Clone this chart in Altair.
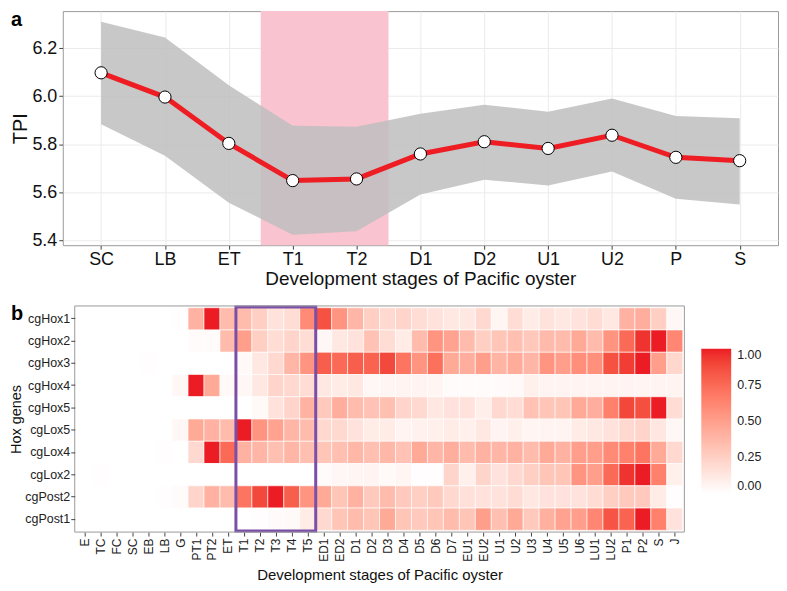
import altair as alt
import pandas as pd

# ---------------- Panel a data ----------------
stages_a = ["SC", "LB", "ET", "T1", "T2", "D1", "D2", "U1", "U2", "P", "S"]
tpi = [6.097, 5.996, 5.803, 5.648, 5.655, 5.759, 5.810, 5.782, 5.837, 5.745, 5.731]
tpi_upper = [6.310, 6.244, 6.045, 5.876, 5.872, 5.927, 5.964, 5.935, 5.990, 5.917, 5.908]
tpi_lower = [5.883, 5.752, 5.556, 5.423, 5.437, 5.590, 5.652, 5.628, 5.686, 5.572, 5.549]
highlight_a = ["T1", "T2"]

# ---------------- Panel b data ----------------
stages_b = ["E", "TC", "FC", "SC", "EB", "LB", "G", "PT1", "PT2", "ET",
            "T1", "T2", "T3", "T4", "T5", "ED1", "ED2", "D1", "D2", "D3",
            "D4", "D5", "D6", "D7", "EU1", "EU2", "U1", "U2", "U3", "U4",
            "U5", "U6", "LU1", "LU2", "P1", "P2", "S", "J"]
genes = ["cgHox1", "cgHox2", "cgHox3", "cgHox4", "cgHox5",
         "cgLox5", "cgLox4", "cgLox2", "cgPost2", "cgPost1"]
cgHox1 = [0, 0, 0, 0, 0, 0, 0.01, 0.40, 1.00, 0.35, 0.35, 0.25, 0.15, 0.18, 0.60,
          0.85, 0.55, 0.38, 0.25, 0.20, 0.22, 0.18, 0.15, 0.12, 0.12, 0.20,
          0.05, 0.18, 0.10, 0.15, 0.12, 0.15, 0.18, 0.12, 0.40, 0.42, 0.25, 0.04]
cgHox2 = [0, 0, 0, 0, 0, 0, 0, 0.02, 0.02, 0.35, 0.50, 0.25, 0.18, 0.22, 0.18,
          0.04, 0.12, 0.15, 0.32, 0.18, 0.10, 0.35, 0.55, 0.48, 0.35, 0.25,
          0.30, 0.33, 0.29, 0.36, 0.35, 0.45, 0.35, 0.55, 0.75, 0.95, 1.00, 0.62]
cgHox3 = [0, 0, 0, 0, 0.01, 0, 0, 0, 0, 0, 0.03, 0.12, 0.20, 0.38, 0.55,
          0.80, 0.75, 0.80, 0.78, 0.88, 0.70, 0.55, 0.72, 0.45, 0.42, 0.50,
          0.39, 0.43, 0.38, 0.55, 0.50, 0.58, 0.57, 0.85, 0.92, 1.00, 0.50, 0.21]
cgHox4 = [0, 0, 0, 0, 0, 0, 0.04, 1.00, 0.45, 0.03, 0.04, 0.12, 0.22, 0.20, 0.18,
          0.12, 0.10, 0.12, 0.04, 0.05, 0.06, 0.06, 0.05, 0.02, 0.02, 0.02,
          0.02, 0.03, 0.08, 0.06, 0.06, 0.06, 0.06, 0.06, 0.06, 0.05, 0.06, 0.06]
cgHox5 = [0, 0, 0, 0, 0, 0, 0, 0, 0, 0, 0.0, 0.03, 0.15, 0.22, 0.40,
          0.28, 0.42, 0.35, 0.32, 0.33, 0.22, 0.20, 0.12, 0.15, 0.15, 0.09,
          0.20, 0.18, 0.32, 0.30, 0.30, 0.45, 0.42, 0.65, 0.89, 0.86, 1.00, 0.18]
cgLox5 = [0, 0, 0, 0, 0, 0, 0.04, 0.45, 0.40, 0.35, 1.00, 0.55, 0.48, 0.38, 0.35,
          0.20, 0.20, 0.15, 0.10, 0.10, 0.06, 0.07, 0.08, 0.10, 0.08, 0.12,
          0.06, 0.08, 0.05, 0.06, 0.06, 0.10, 0.12, 0.15, 0.20, 0.22, 0.13, 0.04]
cgLox4 = [0, 0, 0, 0, 0, 0.01, 0, 0.20, 1.00, 0.75, 0.40, 0.38, 0.33, 0.38, 0.33,
          0.30, 0.33, 0.37, 0.33, 0.37, 0.32, 0.45, 0.38, 0.42, 0.35, 0.40,
          0.38, 0.40, 0.35, 0.45, 0.40, 0.50, 0.50, 0.60, 0.65, 0.70, 0.45, 0.20]
cgLox2 = [0, 0.01, 0, 0, 0, 0, 0, 0, 0, 0, 0, 0, 0, 0, 0,
          0.02, 0.04, 0.05, 0.06, 0.03, 0.05, 0.01, 0.01, 0.22, 0.08, 0.22,
          0.15, 0.20, 0.25, 0.30, 0.30, 0.55, 0.50, 0.75, 0.95, 1.00, 0.65, 0.08]
cgPost2 = [0, 0, 0, 0, 0, 0.01, 0.02, 0.22, 0.40, 0.35, 0.70, 0.88, 1.00, 0.80, 0.55,
           0.45, 0.30, 0.40, 0.28, 0.35, 0.28, 0.25, 0.28, 0.20, 0.16, 0.15,
           0.15, 0.18, 0.12, 0.15, 0.15, 0.15, 0.18, 0.25, 0.28, 0.28, 0.10, 0.01]
cgPost1 = [0, 0, 0, 0, 0, 0, 0, 0, 0, 0, 0, 0.01, 0.02, 0.03, 0.10,
           0.20, 0.30, 0.35, 0.30, 0.45, 0.30, 0.28, 0.30, 0.35, 0.30, 0.50,
           0.33, 0.45, 0.28, 0.41, 0.48, 0.50, 0.62, 0.84, 0.78, 1.00, 0.65, 0.15]
expr_rows = [cgHox1, cgHox2, cgHox3, cgHox4, cgHox5, cgLox5, cgLox4, cgLox2, cgPost2, cgPost1]
box_stages = ["T1", "T5"]

FONT = "Liberation Sans"
BORDER = "#9A9A9A"

# ---------------- Panel a ----------------
df_a = pd.DataFrame({"idx": list(range(len(stages_a))), "stage": stages_a,
                     "tpi": tpi, "lo": tpi_lower, "hi": tpi_upper})
labels_a = "[" + ",".join("'%s'" % s for s in stages_a) + "][datum.value]"

WA, HA = 718, 235
xa_scale = alt.Scale(domain=[-0.6, len(stages_a) - 0.4], nice=False, zero=False)
xa_axis = alt.Axis(values=list(range(len(stages_a))), labelExpr=labels_a,
                   title="Development stages of Pacific oyster",
                   labelFontSize=18, titleFontSize=19, labelPadding=1,
                   titlePadding=1, tickSize=4, grid=True, gridColor="#EBEBEB",
                   domain=False, labelColor="#111", titleColor="#111",
                   tickColor="#444", labelFont=FONT, titleFont=FONT,
                   titleFontWeight="normal", labelOverlap=False, labelFlush=False)
ya_scale = alt.Scale(domain=[5.379, 6.354], nice=False, zero=False)

hl = pd.DataFrame({"idx": [stages_a.index(highlight_a[0]) - 0.5],
                   "idx_end": [stages_a.index(highlight_a[-1]) + 0.5]})
pink = alt.Chart(hl).mark_rect(color="#F9C3CF").encode(
    x=alt.X("idx:Q", scale=xa_scale, axis=xa_axis), x2="idx_end:Q",
    y=alt.value(0), y2=alt.value(HA))

ribbon = alt.Chart(df_a).mark_area(color="#BEBEBE", opacity=0.85).encode(
    x=alt.X("idx:Q", scale=xa_scale, axis=xa_axis),
    y=alt.Y("lo:Q", scale=ya_scale,
            axis=alt.Axis(values=[5.4, 5.6, 5.8, 6.0, 6.2], format=".1f", title="TPI",
                          labelFontSize=18, titleFontSize=20, labelPadding=2,
                          titlePadding=1, tickSize=4, grid=True, gridColor="#EBEBEB",
                          domain=False, labelColor="#111", titleColor="#111",
                          tickColor="#444", labelFont=FONT, titleFont=FONT,
                          titleFontWeight="normal")),
    y2="hi:Q")
line = alt.Chart(df_a).mark_line(color="#EE1D23", strokeWidth=5).encode(
    x=alt.X("idx:Q", axis=xa_axis), y="tpi:Q")
points = alt.Chart(df_a).mark_point(filled=True, fill="white", stroke="black",
                                    strokeWidth=1, size=150, opacity=1).encode(
    x=alt.X("idx:Q", axis=xa_axis), y="tpi:Q")
tag_a = alt.Chart(pd.DataFrame({"t": ["a"]})).mark_text(
    fontSize=20, fontWeight="bold", font=FONT, align="left", baseline="alphabetic",
    color="black").encode(text="t:N", x=alt.value(-52), y=alt.value(15))

panel_a = alt.layer(pink, ribbon, line, points, tag_a).properties(width=WA, height=HA)

# ---------------- Panel b ----------------
rows = []
for g, vals in zip(genes, expr_rows):
    for i, (s, v) in enumerate(zip(stages_b, vals)):
        rows.append({"gene": g, "stage": s, "idx": i, "value": v})
df_b = pd.DataFrame(rows)
labels_b = "[" + ",".join("'%s'" % s for s in stages_b) + "][datum.value]"

SHIFT = 12          # panel b plot starts a little right of panel a
PW, HB = 612, 227
WB = SHIFT + PW
xb_scale = alt.Scale(domain=[-0.6, len(stages_b) - 0.4], nice=False, zero=False,
                     range=[SHIFT, WB])
xb_axis = alt.Axis(values=list(range(len(stages_b))), labelExpr=labels_b,
                   labelAngle=-90, title="Development stages of Pacific oyster",
                   titleX=SHIFT + PW / 2,
                   labelFontSize=12, titleFontSize=15, labelPadding=2,
                   titlePadding=6, tickSize=4, grid=False, domain=False,
                   labelColor="#222", titleColor="#111", tickColor="#444",
                   labelFont=FONT, titleFont=FONT, titleFontWeight="normal",
                   labelOverlap=False, labelFlush=False, labelBound=False)
heat = alt.Chart(df_b).transform_calculate(
    x0="datum.idx - 0.5", x1="datum.idx + 0.5"
).mark_rect(stroke="white", strokeWidth=0.6).encode(
    x=alt.X("x0:Q", scale=xb_scale, axis=xb_axis),
    x2="x1:Q",
    y=alt.Y("gene:O", sort=genes,
            scale=alt.Scale(paddingInner=0, paddingOuter=0.08),
            axis=alt.Axis(title="Hox genes", labelFontSize=12.5, titleFontSize=14.5,
                          labelPadding=1, titlePadding=1, tickSize=4, grid=False,
                          domain=False, labelColor="#222", titleColor="#111",
                          tickColor="#444", labelFont=FONT, titleFont=FONT,
                          titleFontWeight="normal", offset=-SHIFT)),
    color=alt.Color("value:Q",
                    scale=alt.Scale(domain=[0, 1], range=["#FFFFFF", "#EC1C24"],
                                    interpolate="lab"),
                    legend=alt.Legend(title=None, orient="none", legendX=WB + 17, legendY=43,
                                      direction="vertical", gradientLength=145,
                                      gradientThickness=30, gradientStrokeWidth=0,
                                      values=[0, 0.25, 0.5, 0.75, 1], format=".2f",
                                      labelFontSize=12.5, labelOffset=6,
                                      labelColor="#222", labelFont=FONT)))

bx = pd.DataFrame({"x0": [stages_b.index(box_stages[0]) - 0.5],
                   "x1": [stages_b.index(box_stages[1]) + 0.5]})
box = alt.Chart(bx).mark_rect(filled=False, stroke="#7B4FA8", strokeWidth=3).encode(
    x=alt.X("x0:Q", scale=xb_scale, axis=xb_axis), x2="x1:Q",
    y=alt.value(1), y2=alt.value(HB - 1))
frame_b = alt.Chart(pd.DataFrame({"t": [0]})).mark_rect(
    filled=False, stroke=BORDER, strokeWidth=1).encode(
    x=alt.value(SHIFT), x2=alt.value(WB), y=alt.value(0), y2=alt.value(HB))
tag_b = alt.Chart(pd.DataFrame({"t": ["b"]})).mark_text(
    fontSize=20, fontWeight="bold", font=FONT, align="left", baseline="alphabetic",
    color="black").encode(text="t:N", x=alt.value(-52), y=alt.value(14))

panel_b = alt.layer(heat, box, frame_b, tag_b).properties(
    width=WB, height=HB, view=alt.ViewBackground(stroke="transparent"))

chart = alt.concat(panel_a, panel_b, columns=1, spacing=14).properties(
    padding={"left": 0, "top": 0, "right": 0, "bottom": 0}
).resolve_legend(color="independent").configure_view(
    stroke=BORDER, strokeWidth=1
).configure_axis(labelOverlap=False)

chart.save("out.html", embed_options={"renderer": "svg", "actions": False})
